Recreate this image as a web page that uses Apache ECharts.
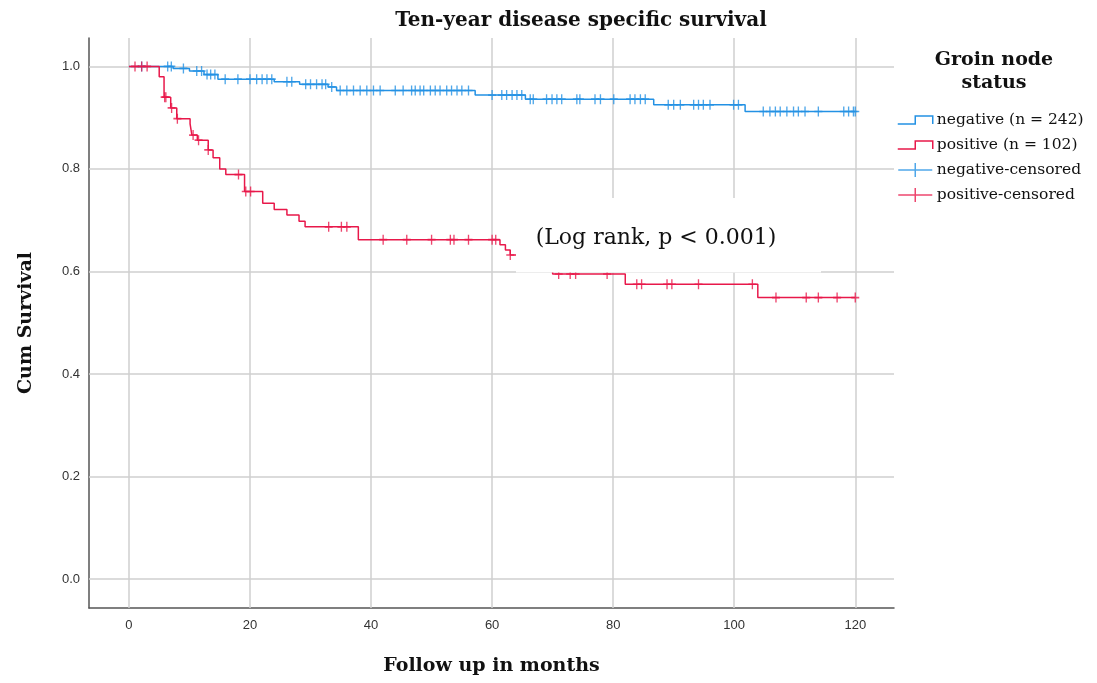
<!DOCTYPE html>
<html>
<head>
<meta charset="utf-8">
<script src="https://cdn.jsdelivr.net/npm/echarts@6/dist/echarts.min.js"></script>
<style>
html,body{margin:0;padding:0;background:#fff;}
#chart{width:1097px;height:683px;}
</style>
</head>
<body>
<div id="chart"></div>
<script>
// Kaplan-Meier step data (months, cumulative survival)
const negEventMonths = [0, 7.3, 10.0, 12.4, 14.7, 24.0, 28.2, 32.9, 34.3, 57.2, 65.5, 86.7, 101.8];
const negSurvival    = [1.0, 0.996, 0.991, 0.984, 0.975, 0.970, 0.965, 0.960, 0.953, 0.944, 0.936, 0.925, 0.912];
const posEventMonths = [0, 5.0, 5.8, 6.9, 7.9, 10.1, 10.4, 11.3, 13.1, 13.9, 15.0, 16.0, 19.1, 22.1, 24.0, 26.1, 28.1, 29.1, 37.9, 61.3, 62.2, 63.0, 66.0, 70.0, 82.0, 103.9];
const posSurvival    = [1.0, 0.980, 0.940, 0.919, 0.898, 0.888, 0.866, 0.856, 0.837, 0.822, 0.800, 0.789, 0.756, 0.733, 0.721, 0.710, 0.698, 0.687, 0.662, 0.652, 0.642, 0.632, 0.613, 0.595, 0.575, 0.549];
const followUpEnd = 120;
const negCensorMonths = [2.1, 6.4, 7.0, 9.0, 11.2, 12.0, 12.9, 13.5, 14.2, 15.9, 18.0, 20.0, 21.1, 22.0, 22.8, 23.6, 26.1, 26.9, 29.2, 30.0, 31.0, 31.9, 32.5, 33.5, 34.9, 36.0, 37.1, 38.2, 39.3, 40.4, 41.5, 44.0, 45.3, 46.7, 47.3, 48.1, 48.7, 49.8, 50.6, 51.4, 52.5, 53.3, 54.2, 55.0, 56.1, 60.0, 61.6, 62.4, 63.3, 64.1, 64.9, 66.3, 66.8, 69.0, 69.9, 70.7, 71.5, 74.0, 74.5, 77.0, 77.9, 80.1, 82.8, 83.6, 84.5, 85.3, 89.1, 90.0, 91.1, 93.3, 94.1, 94.9, 96.0, 99.9, 100.7, 104.8, 105.9, 106.8, 107.6, 108.7, 109.8, 110.6, 111.7, 113.9, 118.1, 118.9, 119.7, 120.0];
const posCensorMonths = [1.0, 2.1, 3.0, 5.9, 6.1, 7.05, 8.0, 10.6, 11.5, 13.1, 18.1, 19.3, 20.1, 33.0, 35.1, 36.0, 42.0, 45.9, 50.0, 53.1, 53.7, 56.1, 60.0, 60.6, 63.0, 71.0, 72.9, 73.8, 79.0, 83.9, 84.7, 88.9, 89.7, 94.1, 103.0, 106.9, 111.9, 113.9, 117.0, 120.0];
const xTicks = [0, 20, 40, 60, 80, 100, 120];
const yTicks = [0.0, 0.2, 0.4, 0.6, 0.8, 1.0];
const seriesNames = ['negative (n = 242)', 'positive (n = 102)', 'negative-censored', 'positive-censored'];

const BLUE = '#2391e4';
const RED = '#e8184a';
const SERIF = 'DejaVu Serif';

function stepData(times, surv, end) {
  const d = times.map((t, i) => [t, surv[i]]);
  d.push([end, surv[surv.length - 1]]);
  return d;
}
function survAt(times, surv, t) {
  let s = surv[0];
  for (let i = 0; i < times.length; i++) { if (times[i] <= t) s = surv[i]; }
  return s;
}
function censorData(cm, times, surv) {
  return cm.map(t => [t, survAt(times, surv, t)]);
}

const chart = echarts.init(document.getElementById('chart'), null, {renderer: 'canvas'});
const crossPath = 'path://M4,0 L4,10 M0,5 L8,5';
const gridStyle = {color: '#cfcfcf', width: 1.5, type: 'solid'};

const option = {
  animation: false,
  backgroundColor: '#fff',
  title: [
    {text: 'Ten-year disease specific survival', left: 576, top: 6, textAlign: 'center',
     textStyle: {fontFamily: SERIF, fontWeight: 'bold', fontSize: 20, color: '#111'}},
    {text: 'Groin node\nstatus', left: 989, top: 44, textAlign: 'center',
     textStyle: {fontFamily: SERIF, fontWeight: 'bold', fontSize: 19, color: '#111', lineHeight: 23, align: 'center'}}
  ],
  legend: {
    orient: 'vertical', left: 897, top: 112, padding: 0,
    itemWidth: 35, itemHeight: 14, itemGap: 9,
    textStyle: {fontFamily: SERIF, fontSize: 15.5, color: '#111', padding: [0, 0, 0, -1]},
    selectedMode: false,
    data: [
      {name: seriesNames[0], icon: 'path://M0,8 L17,8 L17,0 L34,0 L34,8', itemStyle: {color: 'rgba(0,0,0,0)', borderColor: BLUE, borderWidth: 1.5}},
      {name: seriesNames[1], icon: 'path://M0,8 L17,8 L17,0 L34,0 L34,8', itemStyle: {color: 'rgba(0,0,0,0)', borderColor: RED, borderWidth: 1.5}},
      {name: seriesNames[2], icon: 'path://M0,7 L34,7 M17,0 L17,14', itemStyle: {color: 'rgba(0,0,0,0)', borderColor: BLUE, borderWidth: 1.5}},
      {name: seriesNames[3], icon: 'path://M0,7 L34,7 M17,0 L17,14', itemStyle: {color: 'rgba(0,0,0,0)', borderColor: RED, borderWidth: 1.5}}
    ]
  },
  grid: {left: 89, right: 203, top: 38, bottom: 75, containLabel: false, outerBoundsMode: 'none'},
  xAxis: {
    type: 'value', min: -6.6, max: 126.4,
    name: 'Follow up in months', nameLocation: 'middle', nameGap: 49,
    nameTextStyle: {fontFamily: SERIF, fontWeight: 'bold', fontSize: 19, color: '#111'},
    axisLine: {show: true, onZero: false, lineStyle: {color: '#555', width: 1.5}},
    axisTick: {show: false},
    splitLine: {show: false},
    axisLabel: {customValues: xTicks, color: '#333', fontSize: 13, fontFamily: 'Liberation Sans', margin: 11}
  },
  yAxis: {
    type: 'value', min: -0.0566, max: 1.0554,
    name: 'Cum Survival', nameLocation: 'middle', nameGap: 53, nameRotate: 90,
    nameTextStyle: {fontFamily: SERIF, fontWeight: 'bold', fontSize: 19, color: '#111'},
    axisLine: {show: true, onZero: false, lineStyle: {color: '#555', width: 1.5}},
    axisTick: {show: false},
    splitLine: {show: false},
    axisLabel: {customValues: yTicks, formatter: v => v.toFixed(1), color: '#333', fontSize: 13, fontFamily: 'Liberation Sans', margin: 9}
  },
  series: [
    {
      name: 'gridlines', type: 'line', data: [], silent: true,
      markLine: {
        silent: true, symbol: ['none', 'none'], z: 1, animation: false,
        label: {show: false}, lineStyle: gridStyle, emphasis: {disabled: true},
        data: xTicks.map(v => ({xAxis: v})).concat(yTicks.map(v => ({yAxis: v})))
      }
    },
    {
      name: seriesNames[0], type: 'line', step: 'end', showSymbol: false, z: 3,
      data: stepData(negEventMonths, negSurvival, followUpEnd),
      lineStyle: {color: BLUE, width: 1.5}, itemStyle: {color: BLUE}
    },
    {
      name: seriesNames[2], type: 'scatter', z: 3, symbol: crossPath, symbolSize: [8, 10],
      data: censorData(negCensorMonths, negEventMonths, negSurvival),
      itemStyle: {color: 'rgba(0,0,0,0)', borderColor: BLUE, borderWidth: 1.5}
    },
    {
      name: seriesNames[1], type: 'line', step: 'end', showSymbol: false, z: 4,
      data: stepData(posEventMonths, posSurvival, followUpEnd),
      lineStyle: {color: RED, width: 1.5}, itemStyle: {color: RED}
    },
    {
      name: seriesNames[3], type: 'scatter', z: 4, symbol: crossPath, symbolSize: [8, 10],
      data: censorData(posCensorMonths, posEventMonths, posSurvival),
      itemStyle: {color: 'rgba(0,0,0,0)', borderColor: RED, borderWidth: 1.5}
    }
  ],
  graphic: [
    {
      type: 'group', left: 516, top: 198, z: 100,
      children: [
        {type: 'rect', shape: {x: 0, y: 0, width: 305, height: 74.5}, style: {fill: '#fff'}, z: 100},
        {type: 'text', x: 140, y: 40, z: 101,
         style: {text: '(Log rank, p < 0.001)', font: '22px "DejaVu Serif"', fill: '#111', textAlign: 'center', textVerticalAlign: 'middle'}}
      ]
    }
  ]
};
chart.setOption(option);
</script>
</body>
</html>
